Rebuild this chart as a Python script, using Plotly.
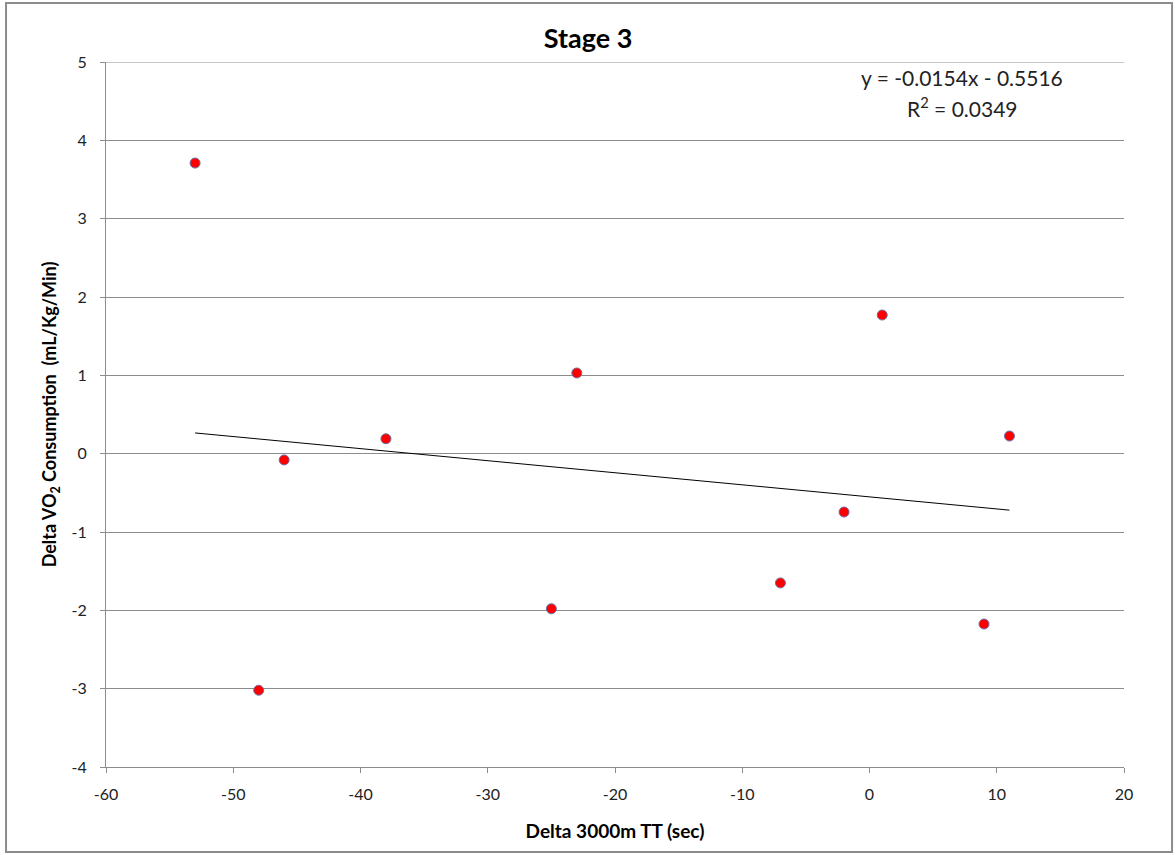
import plotly.graph_objects as go

# Data
delta_tt = [-53, -48, -46, -38, -25, -23, -7, -2, 1, 9, 11]
delta_vo2 = [3.71, -3.02, -0.08, 0.19, -1.98, 1.03, -1.65, -0.745, 1.77, -2.175, 0.225]

# Trendline from the chart's stated equation
slope = -0.0154
intercept = -0.5516
r_squared = 0.0349

x_ticks = [-60, -50, -40, -30, -20, -10, 0, 10, 20]
y_ticks = [-4, -3, -2, -1, 0, 1, 2, 3, 4, 5]

trend_x = [min(delta_tt), max(delta_tt)]
trend_y = [slope * v + intercept for v in trend_x]

FONT = "Lato, 'Open Sans', sans-serif"
GRID = "#8c8c8c"

fig = go.Figure()
fig.add_trace(go.Scatter(
    x=trend_x, y=trend_y, mode="lines",
    line=dict(color="black", width=1), hoverinfo="skip", showlegend=False))
fig.add_trace(go.Scatter(
    x=delta_tt, y=delta_vo2, mode="markers",
    marker=dict(color="#ff0000", size=10, line=dict(color="#6b6fa8", width=1)),
    showlegend=False))

fig.update_layout(
    width=1176, height=855,
    margin=dict(l=106, r=52, t=62, b=88),
    paper_bgcolor="white", plot_bgcolor="white",
    font=dict(family=FONT, color="#222222"),
    title=dict(text="<b>Stage 3</b>", x=0.5, xanchor="center", y=0.955, yanchor="middle",
               font=dict(size=27, family=FONT, color="black")),
    showlegend=False,
)
fig.update_xaxes(
    range=[-60, 20], tickvals=x_ticks, ticktext=[str(v) for v in x_ticks],
    showgrid=False, zeroline=False, showline=True, linecolor=GRID, linewidth=1,
    ticks="outside", ticklen=5, tickcolor=GRID, ticklabelstandoff=8,
    tickfont=dict(size=16, family=FONT, color="#222"),
    title=dict(text="<b>Delta 3000m TT (sec)</b>", font=dict(size=19, family=FONT, color="black"), standoff=22),
)
fig.update_yaxes(
    range=[-4, 5], tickvals=y_ticks, ticktext=[str(v) for v in y_ticks],
    showgrid=True, gridcolor=GRID, gridwidth=1, zeroline=False,
    showline=True, linecolor=GRID, linewidth=1,
    ticks="outside", ticklen=5, tickcolor=GRID, ticklabelstandoff=10,
    tickfont=dict(size=16, family=FONT, color="#222"),
    title=dict(text="<b>Delta VO<sub>2</sub> Consumption  (mL/Kg/Min)</b>",
               font=dict(size=18, family=FONT, color="black"), standoff=10),
)

# top gridline at y = 5
fig.add_shape(type="line", xref="paper", yref="y", x0=0, x1=1, y0=5, y1=5,
              line=dict(color=GRID, width=1), layer="below")

fig.add_annotation(
    xref="paper", yref="paper", x=0.841, y=0.9787, xanchor="center", yanchor="middle",
    text=f"y = {slope}x - {abs(intercept)}",
    showarrow=False, font=dict(size=21, family=FONT, color="#222"))
fig.add_annotation(
    xref="paper", yref="paper", x=0.841, y=0.936, xanchor="center", yanchor="middle",
    text=f"R<sup>2</sup> = {r_squared}",
    showarrow=False, font=dict(size=21, family=FONT, color="#222"))

# outer chart border
fig.add_shape(type="rect", xref="paper", yref="paper",
              x0=-0.0982, x1=1.0472, y0=-0.1206, y1=1.0837,
              line=dict(color="#8c8c8c", width=2), fillcolor="rgba(0,0,0,0)", layer="below")

fig.write_html("out.html")
